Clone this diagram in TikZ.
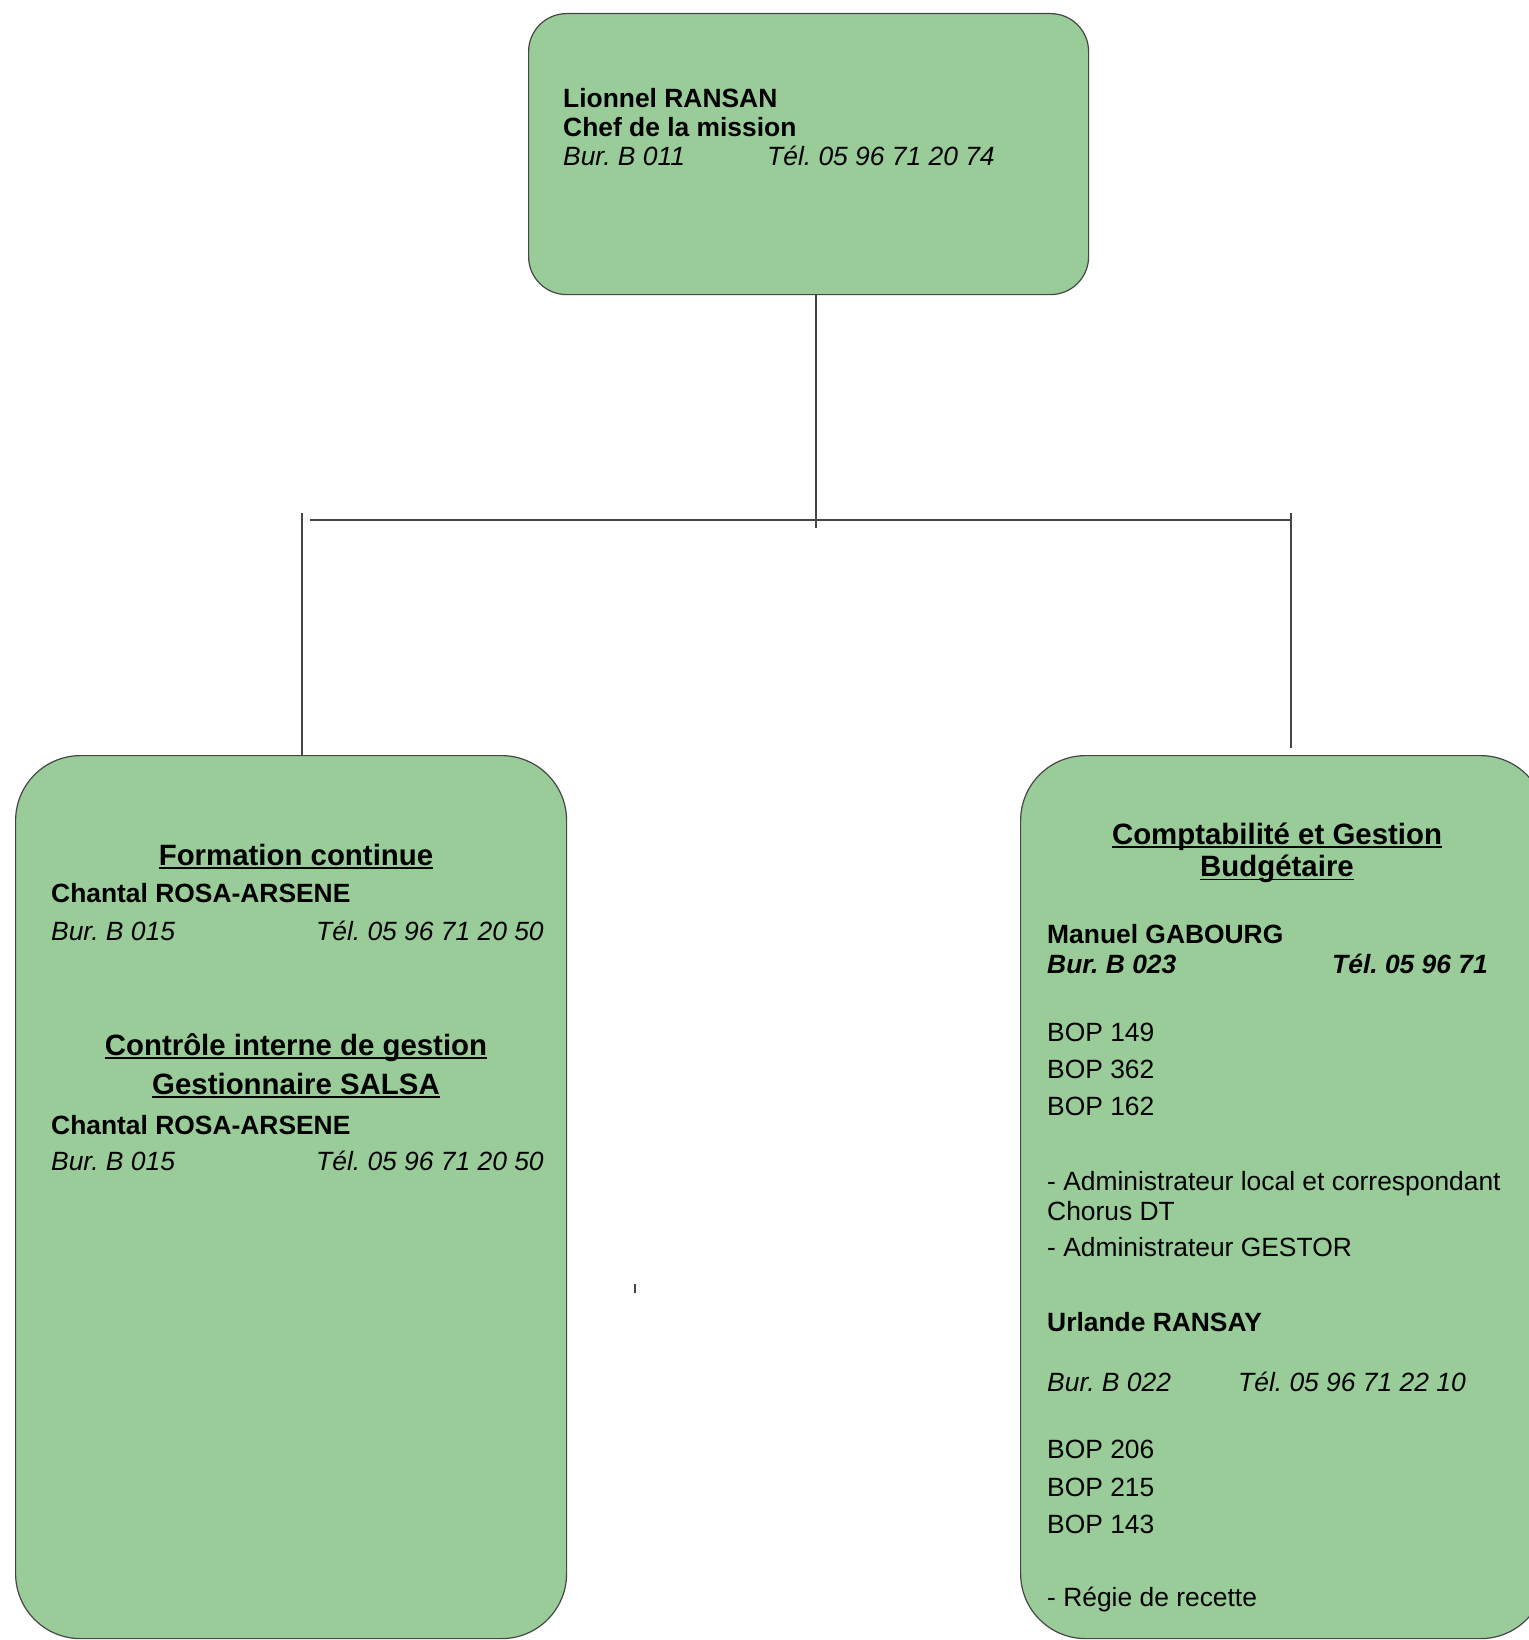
\documentclass[tikz,border=0pt]{standalone}
\usepackage{fontspec}
\setmainfont{Liberation Sans}
\frenchspacing
\definecolor{boxgreen}{RGB}{153,204,153}
\definecolor{edgegray}{RGB}{70,70,70}
\begin{document}
\frenchspacing
\begin{tikzpicture}[x=1pt,y=-1pt,
  box/.style={draw=edgegray, line width=1.2pt, fill=boxgreen, rectangle, inner sep=0pt, anchor=north west},
  conn/.style={draw=edgegray, line width=1.1pt},
  txt/.style={anchor=base west, inner sep=0pt, font=\fontsize{26.4}{30}\selectfont},
  head/.style={anchor=base, inner sep=0pt, font=\fontsize{29.4}{33}\selectfont\bfseries},
  ul/.style={line width=1.9pt, draw=black}]
\useasboundingbox (0,0) rectangle (1528,1640);
\fill[white] (0,0) rectangle (1528,1640);

% boxes
\node[box, rounded corners=38pt, minimum width=560pt, minimum height=281pt] (top) at (528,13) {};
\node[box, rounded corners=65pt, minimum width=551pt, minimum height=883pt] (left) at (15,755) {};
\node[box, rounded corners=65pt, minimum width=525pt, minimum height=883pt] (right) at (1020,755) {};

% connectors
\coordinate (jc) at (816,528);
\coordinate (hl) at (310,520);
\coordinate (hr) at (1291,520);
\coordinate (ll) at (302,513);
\coordinate (rl) at (1291,513);
\coordinate (rend) at (1291,748);
\coordinate (tk1) at (635,1284);
\coordinate (tk2) at (635,1293);
\draw[conn] (jc |- top.south) -- (jc);
\draw[conn] (hl) -- (hr);
\draw[conn] (ll) -- (ll |- left.north);
\draw[conn] (rl) -- (rend);
\draw[conn] (tk1) -- (tk2);

% top box text
\node[txt, font=\fontsize{26.4}{30}\selectfont\bfseries] (t1) at (563,108) {Lionnel RANSAN};
\node[txt, font=\fontsize{26.4}{30}\selectfont\bfseries] (t2) at (563,136.5) {Chef de la mission};
\node[txt, font=\fontsize{26.4}{30}\selectfont\itshape] (t3) at (563,166) {Bur. B 011};
\node[txt, font=\fontsize{26.4}{30}\selectfont\itshape] (t4) at (767,166) {Tél. 05 96 71 20 74};

% left box text
\node[head] (h1) at (296,865) {Formation continue};
\draw[ul] ([yshift=-3pt]h1.base west) -- ([yshift=-3pt]h1.base east);
\node[txt, font=\fontsize{26.4}{30}\selectfont\bfseries] (l1) at (51,902.5) {Chantal ROSA-ARSENE};
\node[txt, font=\fontsize{26.4}{30}\selectfont\itshape] (l2) at (51,940) {Bur. B 015};
\node[txt, font=\fontsize{26.4}{30}\selectfont\itshape] (l3) at (316,940) {Tél. 05 96 71 20 50};
\node[head] (h2) at (296,1055) {Contrôle interne de gestion};
\draw[ul] ([yshift=-3pt]h2.base west) -- ([yshift=-3pt]h2.base east);
\node[head] (h3) at (296,1094) {Gestionnaire SALSA};
\draw[ul] ([yshift=-3pt]h3.base west) -- ([yshift=-3pt]h3.base east);
\node[txt, font=\fontsize{26.4}{30}\selectfont\bfseries] (l4) at (51,1134) {Chantal ROSA-ARSENE};
\node[txt, font=\fontsize{26.4}{30}\selectfont\itshape] (l5) at (51,1170) {Bur. B 015};
\node[txt, font=\fontsize{26.4}{30}\selectfont\itshape] (l6) at (316,1170) {Tél. 05 96 71 20 50};

% right box text
\node[head] (h4) at (1277,844) {Comptabilité et Gestion};
\draw[ul] ([yshift=-3pt]h4.base west) -- ([yshift=-3pt]h4.base east);
\node[head] (h5) at (1277,876.5) {Budgétaire};
\draw[ul] ([yshift=-3pt]h5.base west) -- ([yshift=-3pt]h5.base east);
\node[txt, font=\fontsize{26.4}{30}\selectfont\bfseries] (r1) at (1047,943) {Manuel GABOURG};
\node[txt, font=\fontsize{26.4}{30}\selectfont\bfseries\itshape] (r2) at (1047,973) {Bur. B 023};
\node[txt, font=\fontsize{26.4}{30}\selectfont\bfseries\itshape] (r3) at (1332,973) {Tél. 05 96 71};
\node[txt] (r4) at (1047,1041) {BOP 149};
\node[txt] (r5) at (1047,1078) {BOP 362};
\node[txt] (r6) at (1047,1115.5) {BOP 162};
\node[txt] (r7) at (1047,1190) {- Administrateur local et correspondant};
\node[txt] (r8) at (1047,1220) {Chorus DT};
\node[txt] (r9) at (1047,1256.5) {- Administrateur GESTOR};
\node[txt, font=\fontsize{26.4}{30}\selectfont\bfseries] (r10) at (1047,1331.5) {Urlande RANSAY};
\node[txt, font=\fontsize{26.4}{30}\selectfont\itshape] (r11) at (1047,1391.5) {Bur. B 022};
\node[txt, font=\fontsize{26.4}{30}\selectfont\itshape] (r12) at (1238,1391.5) {Tél. 05 96 71 22 10};
\node[txt] (r13) at (1047,1458) {BOP 206};
\node[txt] (r14) at (1047,1496.5) {BOP 215};
\node[txt] (r15) at (1047,1533) {BOP 143};
\node[txt] (r16) at (1047,1606.5) {- Régie de recette};
\end{tikzpicture}
\end{document}
